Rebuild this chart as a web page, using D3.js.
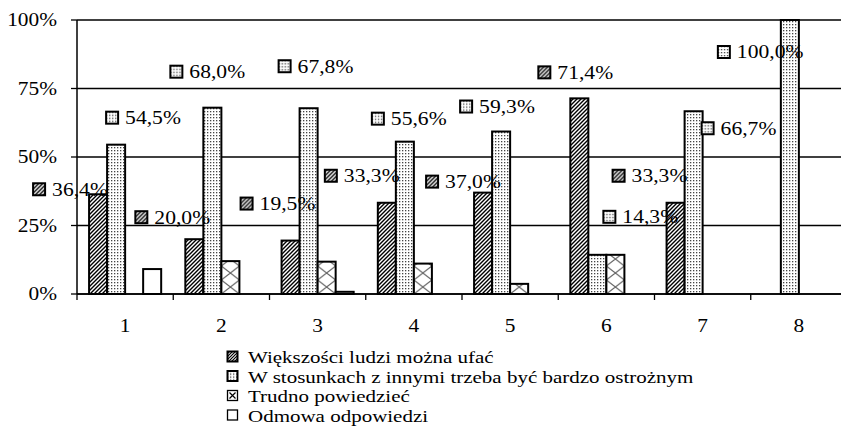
<!DOCTYPE html>
<html>
<head>
<meta charset="utf-8">
<script src="https://cdn.jsdelivr.net/npm/d3@7"></script>
<style>
  body { margin: 0; background: #fff; }
  svg { display: block; }
</style>
</head>
<body>
<div id="chart"></div>
<script>
/**
 * DATA
 * */
const categories = ["1", "2", "3", "4", "5", "6", "7", "8"];
const seriesNames = [
  "Większości ludzi można ufać",
  "W stosunkach z innymi trzeba być bardzo ostrożnym",
  "Trudno powiedzieć",
  "Odmowa odpowiedzi"
];
const wiekszosci = [36.4, 20.0, 19.5, 33.3, 37.0, 71.4, 33.3, 0];
const ostrozny = [54.5, 68.0, 67.8, 55.6, 59.3, 14.3, 66.7, 100.0];
const trudno = [0, 12.0, 11.8, 11.1, 3.7, 14.3, 0, 0];
const odmowa = [9.1, 0, 0.8, 0, 0, 0, 0, 0];
const yTicks = [0, 25, 50, 75, 100];

// data labels (only the first two series are labelled), offset from the bar top
const labelOffsets = [
  { cat: 0, s: 0, dx: -65, dy: -5 },
  { cat: 0, s: 1, dx: -10, dy: -27 },
  { cat: 1, s: 0, dx: -59, dy: -22 },
  { cat: 1, s: 1, dx: -42, dy: -36 },
  { cat: 2, s: 0, dx: -50, dy: -37 },
  { cat: 2, s: 1, dx: -30, dy: -42 },
  { cat: 3, s: 0, dx: -62, dy: -27 },
  { cat: 3, s: 1, dx: -33, dy: -23 },
  { cat: 4, s: 0, dx: -57, dy: -11 },
  { cat: 4, s: 1, dx: -41, dy: -25 },
  { cat: 5, s: 0, dx: -41, dy: -26 },
  { cat: 5, s: 1, dx: 6, dy: -38 },
  { cat: 6, s: 0, dx: -63, dy: -27 },
  { cat: 6, s: 1, dx: 8, dy: 17 },
  { cat: 7, s: 1, dx: -72, dy: 32 }
];

/**
 * CONSTANTS
 * */
const width = 841,
  height = 426,
  margin = { top: 20, bottom: 132, left: 77, right: -6 },
  stretch = 1.2, // the original type is a bit wider than it is tall
  font = '"Liberation Serif", "Times New Roman", serif';

const series = [wiekszosci, ostrozny, trudno, odmowa];
const fills = ["url(#hatch)", "url(#dots)", null, "#fff"];

const svg = d3.select("#chart").append("svg")
  .attr("width", width)
  .attr("height", height)
  .style("font-family", font);

const defs = svg.append("defs");

// diagonal hatch
const hatch = defs.append("pattern")
  .attr("id", "hatch")
  .attr("patternUnits", "userSpaceOnUse")
  .attr("width", 4).attr("height", 4);
hatch.append("rect").attr("width", 4).attr("height", 4).attr("fill", "#fff");
hatch.append("path")
  .attr("d", "M-1,1 l2,-2 M0,4 l4,-4 M3,5 l2,-2")
  .attr("stroke", "#000").attr("stroke-width", 1.4);

// fine dots
const dots = defs.append("pattern")
  .attr("id", "dots")
  .attr("patternUnits", "userSpaceOnUse")
  .attr("width", 3).attr("height", 3);
dots.append("rect").attr("width", 3).attr("height", 3).attr("fill", "#fff");
dots.append("rect").attr("width", 1.3).attr("height", 1.3).attr("fill", "#444");

// small legend version of the hatch
const hatchSmall = defs.append("pattern")
  .attr("id", "hatchSmall")
  .attr("patternUnits", "userSpaceOnUse")
  .attr("width", 3).attr("height", 3);
hatchSmall.append("rect").attr("width", 3).attr("height", 3).attr("fill", "#fff");
hatchSmall.append("path")
  .attr("d", "M-1,1 l2,-2 M0,3 l3,-3 M2,4 l2,-2")
  .attr("stroke", "#000").attr("stroke-width", 1.2);

/**
 * SCALES
 * */
const xScale = d3.scaleBand()
  .domain(categories)
  .range([margin.left, width - margin.right]);

const xInner = d3.scaleBand()
  .domain(d3.range(4))
  .range([0, xScale.bandwidth()])
  .paddingOuter(0.67);

const yScale = d3.scaleLinear()
  .domain([0, 100])
  .range([height - margin.bottom, margin.top]);

const fmt = v => d3.format(".1f")(v).replace(".", ",") + "%";

// cross pattern, one per category so the X lines up with each bar
categories.forEach((c, i) => {
  const w = xInner.bandwidth();
  const p = defs.append("pattern")
    .attr("id", "cross" + i)
    .attr("patternUnits", "userSpaceOnUse")
    .attr("width", w).attr("height", 14)
    .attr("x", xScale(c) + xInner(2))
    .attr("y", yScale(0));
  p.append("rect").attr("width", w).attr("height", 14).attr("fill", "#fff");
  p.append("path")
    .attr("d", `M0,0 L${w},14 M${w},0 L0,14`)
    .attr("stroke", "#666").attr("stroke-width", 1.2);
});

/**
 * GRID + AXES
 * */
svg.append("g")
  .selectAll("line")
  .data(yTicks)
  .join("line")
  .attr("x1", margin.left)
  .attr("x2", width - margin.right)
  .attr("y1", d => yScale(d))
  .attr("y2", d => yScale(d))
  .attr("stroke", "#000")
  .attr("stroke-width", 1.3);

// y axis
const yAxis = svg.append("g");
yAxis.append("line")
  .attr("x1", margin.left).attr("x2", margin.left)
  .attr("y1", yScale(0)).attr("y2", yScale(100))
  .attr("stroke", "#000").attr("stroke-width", 1.5);
yAxis.selectAll(".ytick")
  .data(yTicks)
  .join("line")
  .attr("class", "ytick")
  .attr("x1", margin.left - 6).attr("x2", margin.left)
  .attr("y1", d => yScale(d)).attr("y2", d => yScale(d))
  .attr("stroke", "#000").attr("stroke-width", 1.3);
yAxis.selectAll("text")
  .data(yTicks)
  .join("text")
  .attr("transform", d => `translate(57,${yScale(d)}) scale(${stretch},1)`)
  .attr("dy", "0.35em")
  .attr("text-anchor", "end")
  .style("font-family", font)
  .style("font-size", "17.8px")
  .text(d => d + "%");

// x axis
const xAxis = svg.append("g");
xAxis.append("line")
  .attr("x1", margin.left).attr("x2", width - margin.right)
  .attr("y1", yScale(0)).attr("y2", yScale(0))
  .attr("stroke", "#000").attr("stroke-width", 1.5);
xAxis.selectAll(".xtick")
  .data(categories)
  .join("line")
  .attr("class", "xtick")
  .attr("x1", d => xScale(d)).attr("x2", d => xScale(d))
  .attr("y1", yScale(0)).attr("y2", yScale(0) + 6)
  .attr("stroke", "#000").attr("stroke-width", 1.3);
xAxis.selectAll("text")
  .data(categories)
  .join("text")
  .attr("transform", d => `translate(${xScale(d) + xScale.bandwidth() / 2},332) scale(${stretch},1)`)
  .attr("text-anchor", "middle")
  .style("font-family", font)
  .style("font-size", "17.8px")
  .text(d => d);

/**
 * BARS
 * */
const barData = [];
categories.forEach((c, i) => {
  series.forEach((vals, s) => {
    if (vals[i] > 0) barData.push({ cat: c, i, s, value: vals[i] });
  });
});

svg.append("g")
  .selectAll("rect")
  .data(barData)
  .join("rect")
  .attr("x", d => xScale(d.cat) + xInner(d.s))
  .attr("width", xInner.bandwidth())
  .attr("y", d => yScale(d.value))
  .attr("height", d => yScale(0) - yScale(d.value))
  .attr("fill", d => d.s === 2 ? `url(#cross${d.i})` : fills[d.s])
  .attr("stroke", "#000")
  .attr("stroke-width", 2);

/**
 * DATA LABELS
 * */
const labelKeyFill = ["url(#hatch)", "url(#dots)"];
const lab = svg.append("g")
  .selectAll("g")
  .data(labelOffsets)
  .join("g")
  .attr("transform", d => {
    const c = categories[d.cat];
    const cx = xScale(c) + xInner(d.s) + xInner.bandwidth() / 2;
    const top = yScale(series[d.s][d.cat]);
    return `translate(${cx + d.dx},${top + d.dy})`;
  });

lab.append("rect")
  .attr("x", 0).attr("y", -6)
  .attr("width", 12).attr("height", 12)
  .attr("fill", d => labelKeyFill[d.s])
  .attr("stroke", "#000")
  .attr("stroke-width", 2);

lab.append("text")
  .attr("transform", `translate(19,0) scale(${stretch},1)`)
  .attr("dy", "0.35em")
  .style("font-family", font)
  .style("font-size", "18px")
  .text(d => fmt(series[d.s][d.cat]));

/**
 * LEGEND
 * */
const legend = svg.append("g")
  .selectAll("g")
  .data(seriesNames)
  .join("g")
  .attr("transform", (d, i) => `translate(227,${357 + i * 19.5})`);

legend.append("rect")
  .attr("x", 0.5).attr("y", -5.5)
  .attr("width", 10).attr("height", 10)
  .attr("fill", (d, i) => ["url(#hatchSmall)", "url(#dots)", "#fff", "#fff"][i])
  .attr("stroke", "#000")
  .attr("stroke-width", (d, i) => i < 2 ? 2 : 1.3);

legend.filter((d, i) => i === 2)
  .append("path")
  .attr("d", "M2.5,-3.5 L8.5,2.5 M8.5,-3.5 L2.5,2.5")
  .attr("stroke", "#000")
  .attr("stroke-width", 1.2);

legend.append("text")
  .attr("transform", `translate(21,0) scale(${stretch},1)`)
  .attr("dy", "0.35em")
  .style("font-family", font)
  .style("font-size", "17.5px")
  .text(d => d);
</script>
</body>
</html>
